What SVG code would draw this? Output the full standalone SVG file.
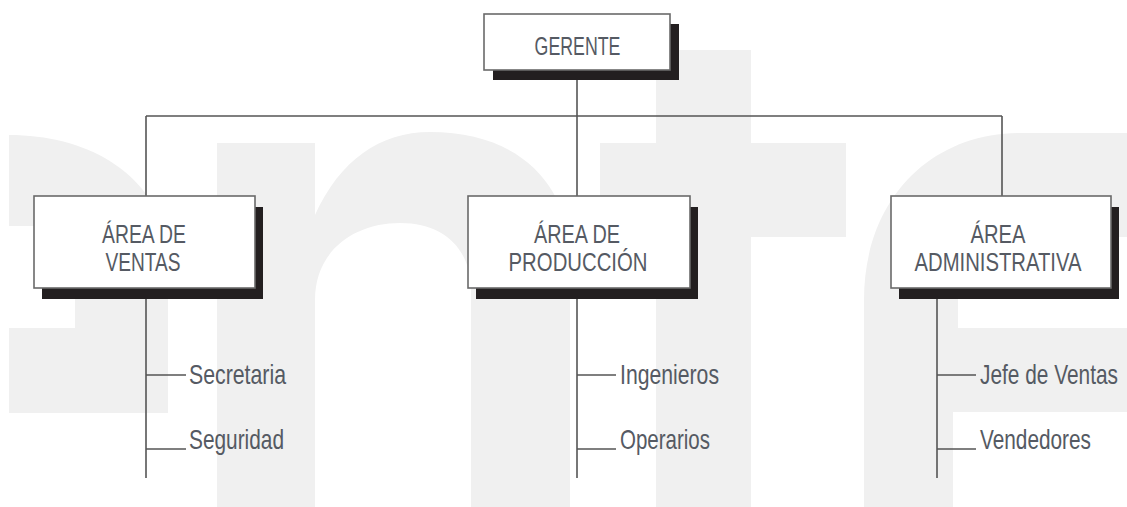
<svg xmlns="http://www.w3.org/2000/svg" width="1127" height="507" viewBox="0 0 1127 507">
<style>
.wm{fill:#f0f0f0;fill-rule:evenodd;stroke:none}
.shadow{fill:#231f20}
.box{fill:#ffffff;stroke:#6a6a6a;stroke-width:1.6}
.t{font-family:"Liberation Sans",Arial,sans-serif;fill:#555a63;text-anchor:middle;font-size:25px}
.lt{font-family:"Liberation Sans",Arial,sans-serif;fill:#555a63;font-size:28px}
.ln{stroke:#555555;stroke-width:1.6;fill:none}
</style>
<rect width="1127" height="507" fill="#ffffff"/>
<g id="watermark">
<path class="wm" d="M9,135 C85,135 150,170 168,240 L168,413 L9,413 Z M9,226 L75,226 L75,328 L9,328 Z"/>
<path class="wm" d="M217,143 L315,143 L315,215 C340,160 380,132 430,132 C520,132 570,185 570,260 L570,507 L471,507 L471,290 C471,250 445,223 400,223 C355,223 315,250 315,300 L315,507 L217,507 Z"/>
<path class="wm" d="M656,50 L751,50 L751,143 L846,143 L846,237 L751,237 L751,507 L656,507 L656,237 L600,237 L600,143 L656,143 Z"/>
<path class="wm" d="M864,507 L864,300 C864,200 930,133 1020,133 L1127,133 L1127,412 L953,412 L953,507 Z M958,237 L1127,237 L1127,328 L958,328 Z"/>
</g>
<g id="connectors">
<line class="ln" x1="577" y1="70" x2="577" y2="196"/>
<line class="ln" x1="146" y1="116" x2="1002" y2="116"/>
<line class="ln" x1="146" y1="116" x2="146" y2="196"/>
<line class="ln" x1="1002" y1="116" x2="1002" y2="196"/>
<line class="ln" x1="146" y1="288" x2="146" y2="478"/>
<line class="ln" x1="146" y1="375" x2="186" y2="375"/>
<line class="ln" x1="146" y1="449" x2="186" y2="449"/>
<line class="ln" x1="577" y1="288" x2="577" y2="478"/>
<line class="ln" x1="577" y1="375" x2="616" y2="375"/>
<line class="ln" x1="577" y1="449" x2="616" y2="449"/>
<line class="ln" x1="937" y1="288" x2="937" y2="478"/>
<line class="ln" x1="937" y1="375" x2="976" y2="375"/>
<line class="ln" x1="937" y1="449" x2="976" y2="449"/>
</g>
<g id="gerente">
<rect class="shadow" x="493" y="24" width="186" height="56"/>
<rect class="box" x="484" y="14" width="186" height="56"/>
<text class="t" transform="translate(577.5,55) scale(0.74,1)" font-size="30" textLength="116" lengthAdjust="spacingAndGlyphs">GERENTE</text>
</g>
<g id="area-ventas">
<rect class="shadow" x="42" y="207" width="221" height="92"/>
<rect class="box" x="34" y="196" width="221" height="92"/>
<text class="t" transform="translate(144,0) scale(0.74,1)"><tspan x="0" y="243" textLength="113.5" lengthAdjust="spacingAndGlyphs">ÁREA DE</tspan><tspan x="-1.4" y="271" textLength="101.4" lengthAdjust="spacingAndGlyphs">VENTAS</tspan></text>
</g>
<g id="area-produccion">
<rect class="shadow" x="476" y="207" width="222" height="92"/>
<rect class="box" x="468" y="196" width="222" height="92"/>
<text class="t" transform="translate(577,0) scale(0.74,1)"><tspan x="0" y="243" textLength="116.2" lengthAdjust="spacingAndGlyphs">ÁREA DE</tspan><tspan x="1.4" y="271" textLength="187.8" lengthAdjust="spacingAndGlyphs">PRODUCCIÓN</tspan></text>
</g>
<g id="area-administrativa">
<rect class="shadow" x="899" y="207" width="220" height="92"/>
<rect class="box" x="891" y="196" width="220" height="92"/>
<text class="t" transform="translate(998,0) scale(0.74,1)"><tspan x="0" y="243" textLength="74.3" lengthAdjust="spacingAndGlyphs">ÁREA</tspan><tspan x="0" y="271" textLength="225.7" lengthAdjust="spacingAndGlyphs">ADMINISTRATIVA</tspan></text>
</g>
<g id="ventas-items">
<text class="lt" transform="translate(189,384) scale(0.75,1)" textLength="129.3" lengthAdjust="spacingAndGlyphs">Secretaria</text>
<text class="lt" transform="translate(189,449) scale(0.75,1)" textLength="126.7" lengthAdjust="spacingAndGlyphs">Seguridad</text>
</g>
<g id="produccion-items">
<text class="lt" transform="translate(620,384) scale(0.75,1)" textLength="132" lengthAdjust="spacingAndGlyphs">Ingenieros</text>
<text class="lt" transform="translate(620,449) scale(0.75,1)" textLength="120" lengthAdjust="spacingAndGlyphs">Operarios</text>
</g>
<g id="administrativa-items">
<text class="lt" transform="translate(980,384) scale(0.75,1)" textLength="184" lengthAdjust="spacingAndGlyphs">Jefe de Ventas</text>
<text class="lt" transform="translate(980,449) scale(0.75,1)" textLength="148" lengthAdjust="spacingAndGlyphs">Vendedores</text>
</g>
</svg>
